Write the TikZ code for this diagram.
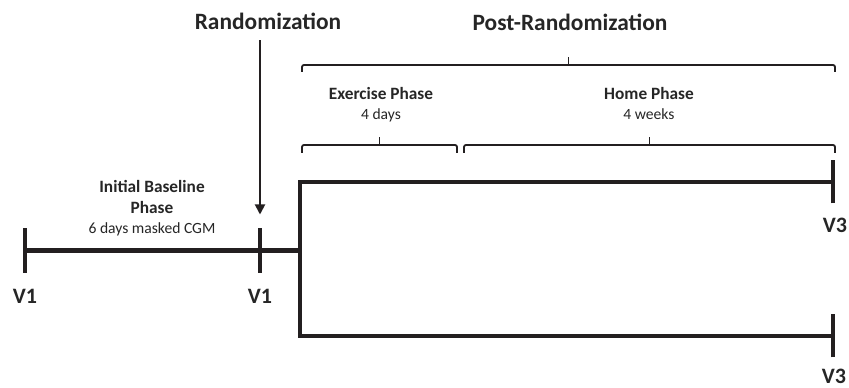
\documentclass[tikz,border=0pt]{standalone}
\usepackage{fontspec}
\setmainfont{Carlito}
\usetikzlibrary{positioning, calc, arrows.meta}
\definecolor{ink}{HTML}{231F20}
\definecolor{txt}{HTML}{262626}
\tikzset{
        timeline/.style={draw=ink, line width=4.5pt}, % the study arms
        visit tick/.style={draw=ink, line width=4.5pt},
        bracket/.style={draw=ink, line width=1.8pt, rounded corners=2pt},
        pointer/.style={draw=ink, line width=1.8pt, -{Triangle[length=10pt, width=10pt]}},
    }
\tikzset{
      heading/.style={
		anchor=base, inner sep=0pt, text=txt,
		font=\bfseries\fontsize{23.4}{28}\selectfont,
	  },
      phase label/.style={
		anchor=base, inner sep=0pt, text=txt,
		font=\bfseries\fontsize{17.3}{21}\selectfont,
	  },
      duration/.style={
		anchor=base, inner sep=0pt, text=txt,
		font=\fontsize{15.6}{19}\selectfont,
	  },
  		visit label/.style={
		anchor=base, inner sep=0pt, text=txt,
		font=\bfseries\fontsize{22}{26}\selectfont,
      }
  	}
\begin{document}
\begin{tikzpicture}[x=1pt, y=1pt]
    \useasboundingbox (0,0) rectangle (849,388);
    % visits
    \coordinate (v1a) at (25,137.5);
    \coordinate (v1b) at (260,137.5);
    \coordinate (split) at (300,137.5);
    \coordinate (armtop) at (300,206);
    \coordinate (armbot) at (300,52);
    \coordinate (v3a) at (833,206);
    \coordinate (v3b) at (833,52);
    \draw [timeline] (v1a) -- (split);
    \draw [timeline] (v3a) -- (armtop) -- (armbot) -- (v3b);
    \foreach \v in {v1a, v1b}
        \draw [visit tick] ([yshift=-22.5pt]\v) -- ([yshift=22.5pt]\v);
    \foreach \v in {v3a, v3b}
        \draw [visit tick] ([yshift=-21.5pt]\v) -- ([yshift=21.5pt]\v);
    \node [visit label] (lv1a) at (25,84) {V1};
    \node [visit label] (lv1b) at (260,84) {V1};
    \node [visit label] (lv3a) at (835,155) {V3};
    \node [visit label] (lv3b) at (834,4) {V3};
    % baseline phase
    \node [phase label] (base1) at (152,195) {Initial Baseline};
    \node [phase label] (base2) at (152,174) {Phase};
    \node [duration] (cgm) at (152,154) {6 days masked CGM};
    % randomization
    \node [heading] (rand) at (268,358) {Randomization};
    \draw [pointer] ([yshift=-10pt]rand.south -| v1b) -- ([yshift=36pt]v1b);
    % post-randomization
    \node [heading] (post) at (570,357) {Post-Randomization};
    \coordinate (postL) at (302,323);
    \coordinate (postR) at (835,323);
    \draw [bracket] ([yshift=-7pt]postL) -- (postL) -- (postR) -- ([yshift=-7pt]postR);
    \draw [bracket] ($(postL)!0.5!(postR)$) -- ++(0,8);
    \node [phase label] (exer) at (381,288) {Exercise Phase};
    \node [duration] (days) at (381,268) {4 days};
    \node [phase label] (home) at (649,288) {Home Phase};
    \node [duration] (weeks) at (649,268) {4 weeks};
    \coordinate (exerL) at (302,243);
    \coordinate (exerR) at (457,243);
    \coordinate (homeL) at (464,243);
    \coordinate (homeR) at (835,243);
    \draw [bracket] ([yshift=-8pt]exerL) -- (exerL) -- (exerR) -- ([yshift=-8pt]exerR);
    \draw [bracket] ($(exerL)!0.5!(exerR)$) -- ++(0,8);
    \draw [bracket] ([yshift=-8pt]homeL) -- (homeL) -- (homeR) -- ([yshift=-8pt]homeR);
    \draw [bracket] ($(homeL)!0.5!(homeR)$) -- ++(0,8);
\end{tikzpicture}
\end{document}
